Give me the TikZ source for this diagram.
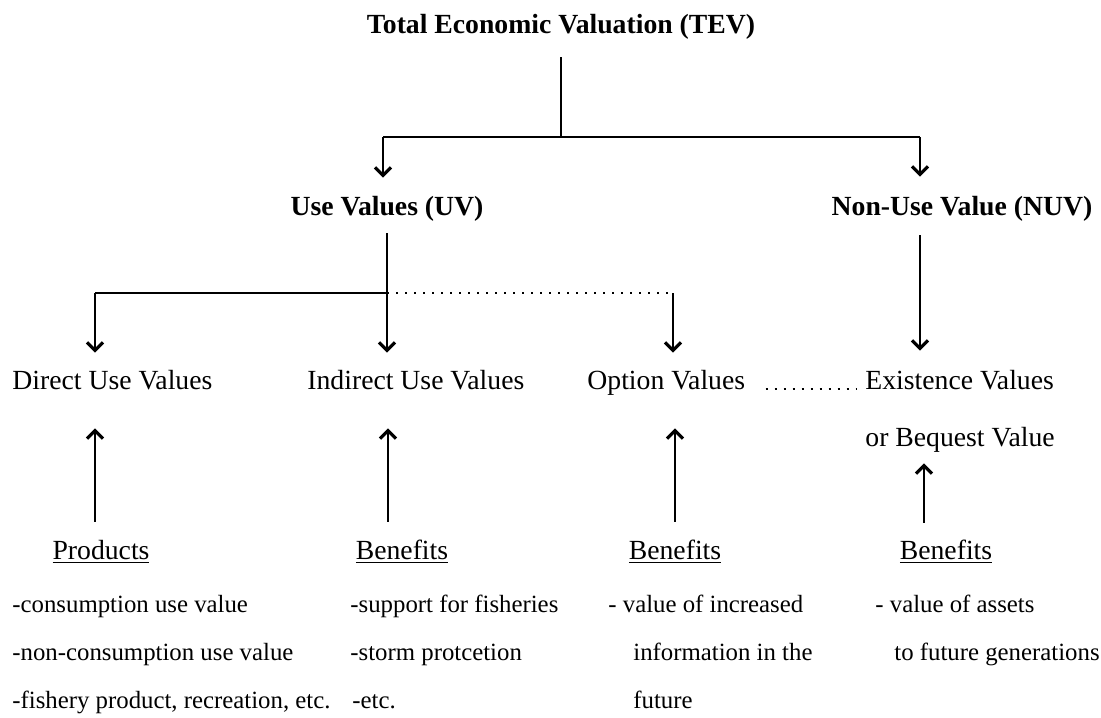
\documentclass[tikz,border=0pt]{standalone}
\usepackage{fontspec}
\setmainfont{Liberation Serif}
\usepackage{tikz}
\usetikzlibrary{arrows.meta}

\begin{document}
\begin{tikzpicture}[x=0.5pt, y=-0.5pt,
    every node/.style={font=\fontsize{13.85}{16}\selectfont, inner sep=0pt, text height=10pt, text depth=3pt},
    head/.style={font=\fontsize{13.85}{16}\selectfont\bfseries},
    listtxt/.style={font=\fontsize{12.4}{15}\selectfont, anchor=base west},
    link/.style={line width=1.2pt},
    arr/.style={line width=1.2pt, -{Straight Barb[length=4pt,width=8pt,line width=1.6pt]}},
    dots/.style={line width=1pt, dash pattern=on 1pt off 3.5pt}]
    \useasboundingbox (0,0) rectangle (1101,717);

    % Headings
    \node[head, anchor=base] (tev) at (561,34) {Total Economic Valuation (TEV)};
    \node[head, anchor=base] (uv) at (387,215) {Use Values (UV)};
    \node[head, anchor=base] (nuv) at (962,215) {Non-Use Value (NUV)};

    % Kinds of value
    \node[anchor=base west] (direct) at (12,389) {Direct Use Values};
    \node[anchor=base west] (indirect) at (307,389) {Indirect Use Values};
    \node[anchor=base west] (option) at (587,389) {Option Values};
    \node[anchor=base west] (exist) at (865,389) {Existence Values};
    \node[anchor=base west] (bequest) at (865,446) {or Bequest Value};

    % Sources
    \node[anchor=base] (prod) at (101,559) {\underline{Products}};
    \node[anchor=base] (ben2) at (402,559) {\underline{Benefits}};
    \node[anchor=base] (ben3) at (675,559) {\underline{Benefits}};
    \node[anchor=base] (ben4) at (946,559) {\underline{Benefits}};

    % Lists
    \node[listtxt] (d1) at (12,612) {-consumption use value};
    \node[listtxt] (d2) at (12,660) {-non-consumption use value};
    \node[listtxt] (d3) at (12,708) {-fishery product, recreation, etc.};
    \node[listtxt] (i1) at (350,612) {-support for fisheries};
    \node[listtxt] (i2) at (350,660) {-storm protcetion};
    \node[listtxt] (i3) at (352,708) {-etc.};
    \node[listtxt] (o1) at (608,612) {- value of increased};
    \node[listtxt] (o2) at (633,660) {information in the};
    \node[listtxt] (o3) at (633,708) {future};
    \node[listtxt] (e1) at (875,612) {- value of assets};
    \node[listtxt] (e2) at (894,660) {to future generations};

    % Top split
    \coordinate (j0) at (561,137);
    \coordinate (jl) at (383,137);
    \coordinate (jr) at (920,137);
    \draw[link, shorten <=8.5pt] (tev.south) -- (j0);
    \draw[link] (jl) -- (jr);
    \draw[arr, shorten >=8.5pt] (jl) -- (jl |- uv.north);
    \draw[arr, shorten >=9pt] (jr) -- (jr |- nuv.north);

    % Use values split
    \coordinate (ju) at (387,293);
    \coordinate (jd) at (95,293);
    \coordinate (jo) at (673,293);
    \draw[link, shorten <=6pt] (uv.south) -- (ju);
    \draw[link] (jd) -- (ju);
    \draw[dots] (ju) -- (jo);
    \draw[arr, shorten >=8pt] (jd) -- (jd |- direct.north);
    \draw[arr, shorten >=8pt] (ju) -- (ju |- indirect.north);
    \draw[arr, shorten >=8pt] (jo) -- (jo |- option.north);

    % Non-use value
    \draw[arr, shorten <=7pt, shorten >=9pt] (jr |- nuv.south) -- (jr |- exist.north);
    \draw[dots, shorten <=10pt, shorten >=4pt] (option.base east) -- (exist.base west);

    % Sources up to values
    \draw[arr, shorten <=8.5pt, shorten >=16.5pt] ([xshift=-3pt]prod.north) -- ([xshift=-3pt]prod.north |- direct.south);
    \draw[arr, shorten <=8.5pt, shorten >=16.5pt] ([xshift=-7pt]ben2.north) -- ([xshift=-7pt]ben2.north |- indirect.south);
    \draw[arr, shorten <=8.5pt, shorten >=16.5pt] (ben3.north) -- (ben3.north |- option.south);
    \draw[arr, shorten <=8pt, shorten >=5.5pt] ([xshift=-11pt]ben4.north) -- ([xshift=-11pt]ben4.north |- bequest.south);
\end{tikzpicture}
\end{document}
